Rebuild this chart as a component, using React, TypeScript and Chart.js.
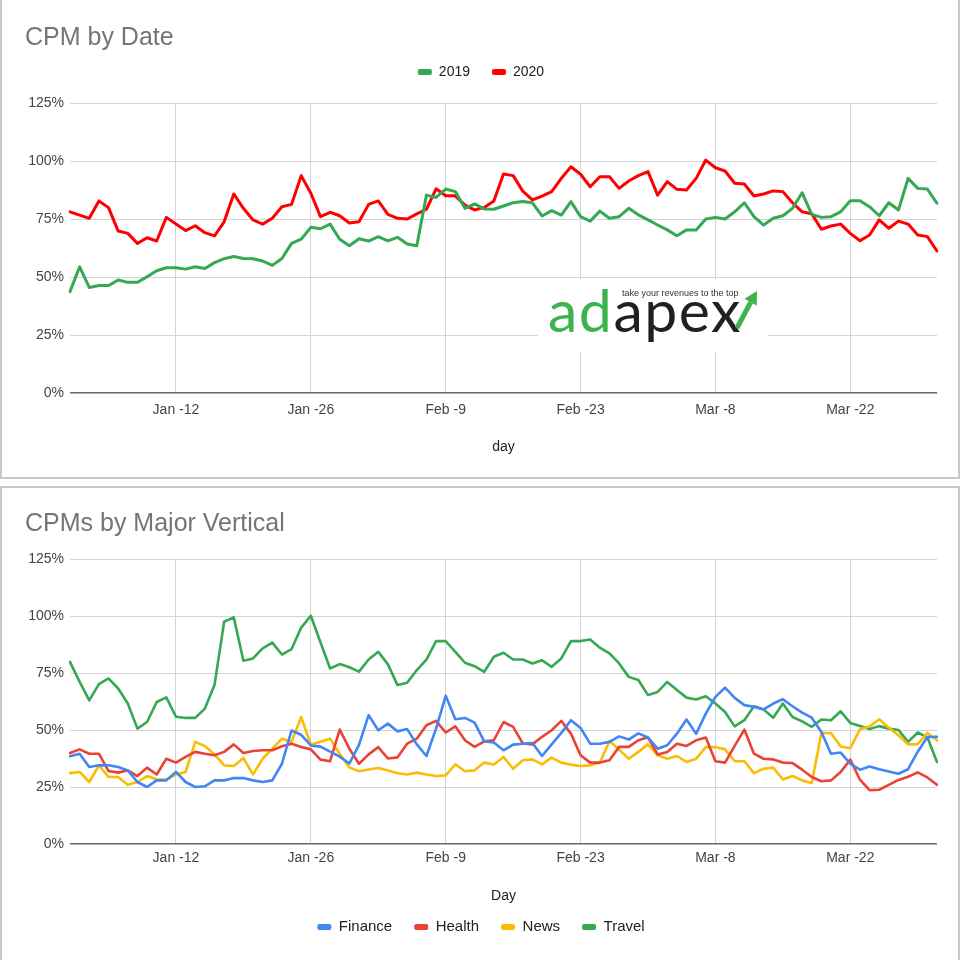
import React, { useEffect, useRef } from 'react';
import { Chart, registerables } from 'chart.js';

Chart.register(...registerables);

const FONT = '"Liberation Sans", Arial, Helvetica, sans-serif';

// categories: one per day, Jan 1 .. Mar 31
const MONTHS: [string, number][] = [['Jan', 31], ['Feb', 29], ['Mar', 31]];
const DAYS: string[] = MONTHS.flatMap(([m, n]) => Array.from({ length: n }, (_, i) => `${m} ${i + 1}`));

// x tick labels and the day index they sit on
const TICK_INDEX = [11, 25, 39, 53, 67, 81];
const TICK_LABELS = ['Jan -12', 'Jan -26', 'Feb -9', 'Feb -23', 'Mar -8', 'Mar -22'];

// ---- CPM by Date (percent) ----
const CPM_2019 = [
  43.7, 54.4, 45.5, 46.3, 46.3, 48.7, 47.7, 47.7, 50.1, 52.7,
  54, 54, 53.4, 54.4, 53.7, 56.2, 57.9, 58.8, 58, 57.9,
  56.9, 55, 58, 64.5, 66.3, 71.4, 70.8, 72.8, 66.3, 63.5,
  66.5, 65.5, 67.4, 65.6, 67.1, 64.2, 63.5, 85.3, 84.3, 87.9,
  86.8, 79.6, 81.5, 79.3, 79.2, 80.6, 82, 82.5, 82, 76.3,
  78.6, 76.7, 82.5, 76, 74.1, 78.4, 75.3, 76, 79.6, 76.8,
  74.6, 72.4, 70.3, 67.8, 70.3, 70.3, 75, 75.7, 75, 78.1,
  82, 76, 72.4, 75.3, 76.4, 79.6, 86.3, 77, 75.7, 76,
  78.1, 82.9, 82.9, 80.3, 76.4, 82, 78.9, 92.5, 88.2, 87.9,
  81.8,
];
const CPM_2020 = [
  78.1, 76.7, 75.3, 82.8, 79.9, 69.8, 68.8, 64.5, 66.9, 65.5,
  75.7, 72.8, 70, 72.1, 69.1, 67.7, 73.8, 85.8, 79.6, 74.6,
  72.8, 75.3, 80.3, 81.3, 93.7, 86.1, 76, 77.9, 76.4, 73.3,
  73.8, 81.3, 82.8, 77, 75.3, 75, 77.2, 79.2, 88, 85,
  85, 81, 78.9, 80, 82.8, 94.4, 93.7, 87, 83.2, 84.9,
  86.8, 92.5, 97.5, 94.3, 88.9, 93.2, 93.2, 88.2, 91.4, 93.7,
  95.4, 85.3, 91.1, 87.8, 87.5, 92.5, 100.4, 97.1, 95.7, 90.4,
  90.1, 84.9, 85.8, 87.1, 86.8, 82, 78.1, 77.2, 70.6, 72,
  72.8, 68.8, 65.6, 68.1, 74.6, 71, 74.1, 72.8, 68.1, 67.4,
  61.2,
];

// ---- CPMs by Major Vertical (percent) ----
const FINANCE = [
  38.5, 39.6, 33.8, 34.5, 34.5, 33.8, 32.3, 27.2, 25, 27.9,
  27.9, 31.6, 27.2, 25, 25.3, 27.9, 27.9, 28.9, 28.9, 27.9,
  27.2, 27.9, 35.2, 49.8, 47.9, 43.2, 42.7, 40.5, 38.3, 35.3,
  43.5, 56.5, 49.9, 52.8, 49.4, 50.4, 43.7, 38.6, 50.6, 65,
  54.7, 55.3, 53.2, 45, 44.5, 41.1, 43.6, 44, 44.3, 38.6,
  43.7, 48.7, 54.3, 50.9, 44, 44, 44.8, 47.2, 45.8, 48.5,
  46.7, 41.8, 43.3, 48.4, 54.6, 48.4, 57.2, 64.5, 68.6, 64.1,
  60.9, 60.2, 59, 61.6, 63.5, 60.4, 57.6, 55.4, 49.1, 39.6,
  40.1, 35.2, 32.6, 34, 32.8, 31.8, 30.8, 32.8, 40.5, 46.9,
  47,
];
const HEALTH = [
  39.9, 41.5, 39.6, 39.6, 32, 31.3, 32.3, 29.8, 33.5, 30.5,
  37.4, 35.7, 38.2, 40.4, 39.6, 38.9, 40.4, 43.7, 39.9, 40.8,
  41.1, 41.1, 42.9, 44, 42.5, 41.5, 37, 36.3, 50.2, 41.8,
  35.2, 39.3, 42.5, 37.5, 38, 44, 46.2, 52.1, 54, 48.9,
  51.6, 45.5, 42.6, 45, 45.5, 53.5, 51.4, 44.1, 43.7, 47,
  49.9, 54, 48.4, 38.9, 35.7, 35.7, 36.7, 42.6, 42.6, 45.5,
  46.8, 39.3, 40.4, 44, 43, 45.5, 46.7, 36.3, 35.7, 43,
  50.2, 39.6, 37.4, 37.1, 35.7, 35.5, 32.6, 29.4, 27.5, 27.9,
  31.6, 37, 28.2, 23.6, 23.8, 25.9, 28.1, 29.5, 31.4, 29.2,
  26,
];
const NEWS = [
  31.1, 31.6, 27.2, 34.5, 29.4, 29.4, 26, 27.2, 29.8, 28.3,
  28.3, 30.5, 31.6, 44.8, 43, 39.3, 34.5, 34.2, 37.7, 30.5,
  37.4, 41.8, 46.2, 44.8, 55.7, 43.5, 44.8, 46.2, 39.5, 33.6,
  31.9, 32.7, 33.3, 32.2, 31, 30.5, 31.3, 30.5, 29.8, 30.1,
  34.9, 31.9, 32.3, 35.7, 34.9, 38.2, 33, 36.7, 37.1, 34.9,
  37.9, 35.7, 34.8, 34.2, 34.5, 35.7, 45.2, 41.4, 37.4, 40.4,
  43.7, 38.9, 37.4, 38.6, 36, 37.4, 42.5, 42.5, 41.5, 36.3,
  36.3, 31.1, 33, 33.5, 28.3, 29.8, 27.9, 26.7, 48.7, 48.7,
  42.8, 42, 50.3, 51.5, 54.7, 51, 47.7, 43.7, 43.8, 48.7,
  45.5,
];
const TRAVEL = [
  79.9, 71.1, 63, 70.1, 72.6, 68.2, 61.6, 50.6, 53.5, 62.3,
  64.3, 55.8, 55.3, 55.3, 59.4, 69.7, 97.5, 99.4, 80.4, 81.4,
  85.8, 88.3, 83.1, 85.5, 94.9, 100.1, 88.5, 77, 78.9, 77.5,
  75.6, 80.9, 84.3, 78.8, 69.7, 70.7, 76.3, 80.9, 89, 89,
  84.3, 79.5, 78, 75.5, 82.1, 83.9, 80.9, 80.9, 79.2, 80.6,
  77.7, 81.4, 89, 89, 89.7, 86.1, 83.6, 79.2, 73.3, 71.9,
  65.3, 66.7, 71.1, 67.5, 64.2, 63.4, 64.8, 61.6, 57.9, 51.6,
  54.3, 60.4, 59, 55.4, 61.6, 55.7, 53.8, 51.4, 54.6, 54.3,
  58.2, 53.1, 51.8, 50.4, 51.7, 50.6, 50, 44.8, 48.9, 46.8,
  36,
];

const GRID = '#d4d4d4';
const ZERO = '#666666';

// adds empty space below the legend (between legend and plot)
const legendSpacer = {
  id: 'legendSpacer',
  afterInit(chart: any, _args: any, opts: any) {
    const lg = chart.legend;
    if (!lg || !opts || !opts.extra) return;
    const fit = lg.fit.bind(lg);
    lg.fit = function () {
      fit();
      this.height += opts.extra;
    };
  },
};

function legendLabels(padding: number, size: number) {
  return {
    boxWidth: 14,
    boxHeight: 6,
    useBorderRadius: true,
    borderRadius: 2,
    padding,
    color: '#222',
    font: { size, family: FONT },
    generateLabels: (chart: any) =>
      (Chart.defaults.plugins.legend.labels.generateLabels as any)(chart).map((l: any) => ({
        ...l,
        lineWidth: 0,
      })),
  };
}

function xScale(title: string, tickPad: number, height: number, titlePad: { top: number; bottom: number }) {
  return {
    type: 'category' as const,
    grid: {
      drawTicks: false,
      color: (ctx: any) => (TICK_INDEX.includes(ctx.index) ? GRID : 'rgba(0,0,0,0)'),
      lineWidth: 1,
    },
    border: { display: false },
    ticks: {
      autoSkip: false,
      maxRotation: 0,
      minRotation: 0,
      padding: tickPad,
      color: '#444',
      font: { size: 14, family: FONT },
      callback: (_v: any, i: number) => {
        const k = TICK_INDEX.indexOf(i);
        return k >= 0 ? TICK_LABELS[k] : '';
      },
    },
    title: {
      display: true,
      text: title,
      color: '#222',
      font: { size: 14, family: FONT },
      padding: titlePad,
    },
    afterFit: (s: any) => {
      s.height = height;
    },
  };
}

function yScale() {
  return {
    min: 0,
    max: 125,
    ticks: {
      stepSize: 25,
      padding: 6,
      color: '#444',
      font: { size: 14, family: FONT },
      callback: (v: any) => `${v}%`,
    },
    grid: {
      drawTicks: false,
      color: (ctx: any) => (ctx.tick && ctx.tick.value === 0 ? ZERO : GRID),
      lineWidth: (ctx: any) => (ctx.tick && ctx.tick.value === 0 ? 1.6 : 1),
    },
    border: { display: false },
    afterFit: (s: any) => {
      s.width = 45;
    },
  };
}

function line(label: string, data: number[], color: string, width: number) {
  return {
    label,
    data,
    borderColor: color,
    backgroundColor: color,
    borderWidth: width,
    pointRadius: 0,
    pointHoverRadius: 0,
    tension: 0,
    borderJoinStyle: 'round' as const,
    borderCapStyle: 'round' as const,
  };
}

export default function App() {
  const topRef = useRef<HTMLCanvasElement>(null);
  const botRef = useRef<HTMLCanvasElement>(null);

  useEffect(() => {
    Chart.defaults.font.family = FONT;
    const top = new Chart(topRef.current as HTMLCanvasElement, {
      type: 'line',
      data: {
        labels: DAYS,
        datasets: [line('2019', CPM_2019, '#34a853', 3), line('2020', CPM_2020, '#ff0000', 3)],
      },
      options: {
        responsive: false,
        animation: false,
        events: [],
        layout: { padding: { left: 25, right: 23, top: 43, bottom: 18.6 } },
        scales: {
          x: xScale('day', 9, 66.4, { top: 4, bottom: 4 }),
          y: yScale(),
        } as any,
        plugins: {
          legend: { display: true, position: 'top', labels: legendLabels(22, 14) as any },
          tooltip: { enabled: false },
          legendSpacer: { extra: 14 },
        } as any,
      },
      plugins: [legendSpacer],
    });

    const bottom = new Chart(botRef.current as HTMLCanvasElement, {
      type: 'line',
      data: {
        labels: DAYS,
        datasets: [
          line('Finance', FINANCE, '#4285f4', 2.6),
          line('Health', HEALTH, '#ea4335', 2.6),
          line('News', NEWS, '#fbbc04', 2.6),
          line('Travel', TRAVEL, '#34a853', 2.6),
        ],
      },
      options: {
        responsive: false,
        animation: false,
        events: [],
        layout: { padding: { left: 25, right: 23, top: 73, bottom: 15.5 } },
        scales: {
          x: xScale('Day', 6, 53.5, { top: 4, bottom: -6.9 }),
          y: yScale(),
        } as any,
        plugins: {
          legend: { display: true, position: 'bottom', labels: legendLabels(22, 15) as any },
          tooltip: { enabled: false },
        } as any,
      },
    });

    return () => {
      top.destroy();
      bottom.destroy();
    };
  }, []);

  const titleStyle: React.CSSProperties = {
    position: 'absolute',
    left: 25,
    fontFamily: FONT,
    fontSize: 25,
    lineHeight: '30px',
    color: '#757575',
    whiteSpace: 'nowrap',
    margin: 0,
  };

  return (
    <div
      style={{
        position: 'absolute',
        left: 0,
        top: 0,
        width: 960,
        height: 960,
        overflow: 'hidden',
        background: '#ffffff',
        fontFamily: FONT,
      }}
    >
      <canvas
        ref={topRef}
        width={960}
        height={478}
        style={{ position: 'absolute', left: 0, top: 0, width: 960, height: 478 }}
      />
      <canvas
        ref={botRef}
        width={960}
        height={474}
        style={{ position: 'absolute', left: 0, top: 486, width: 960, height: 474 }}
      />

      <div style={{ ...titleStyle, top: 21 }}>CPM by Date</div>
      <div style={{ ...titleStyle, top: 507 }}>CPMs by Major Vertical</div>

      {/* panel frames */}
      <div
        style={{
          position: 'absolute',
          left: 0,
          top: -2,
          width: 960,
          height: 481,
          boxSizing: 'border-box',
          border: '2px solid #c9c9c9',
          pointerEvents: 'none',
        }}
      />
      <div
        style={{
          position: 'absolute',
          left: 0,
          top: 486,
          width: 960,
          height: 478,
          boxSizing: 'border-box',
          border: '2px solid #c9c9c9',
          pointerEvents: 'none',
        }}
      />

      {/* adapex logo */}
      <div
        style={{
          position: 'absolute',
          left: 538,
          top: 279,
          width: 230,
          height: 73,
          background: '#ffffff',
        }}
      >
        <div
          style={{
            position: 'absolute',
            left: 84,
            top: 10,
            fontFamily: FONT,
            fontSize: 9,
            lineHeight: 1,
            color: '#333',
            whiteSpace: 'nowrap',
          }}
        >
          take your revenues to the top
        </div>
        <div
          style={{
            position: 'absolute',
            left: 10,
            top: 1,
            fontFamily: 'Lato, "Open Sans", sans-serif',
            fontSize: 59,
            fontWeight: 400,
            lineHeight: 1,
            letterSpacing: 1.5,
            whiteSpace: 'nowrap',
          }}
        >
          <span style={{ color: '#3cb44b' }}>ad</span>
          <span style={{ color: '#231f20' }}>apex</span>
        </div>
        <svg
          width={230}
          height={73}
          style={{ position: 'absolute', left: 0, top: 0, overflow: 'visible' }}
        >
          <line x1={199} y1={49} x2={212.6} y2={23.3} stroke="#3cb44b" strokeWidth={5} />
          <polygon points="219,12 206.5,19.8 218.7,26.8" fill="#3cb44b" />
        </svg>
      </div>
    </div>
  );
}
